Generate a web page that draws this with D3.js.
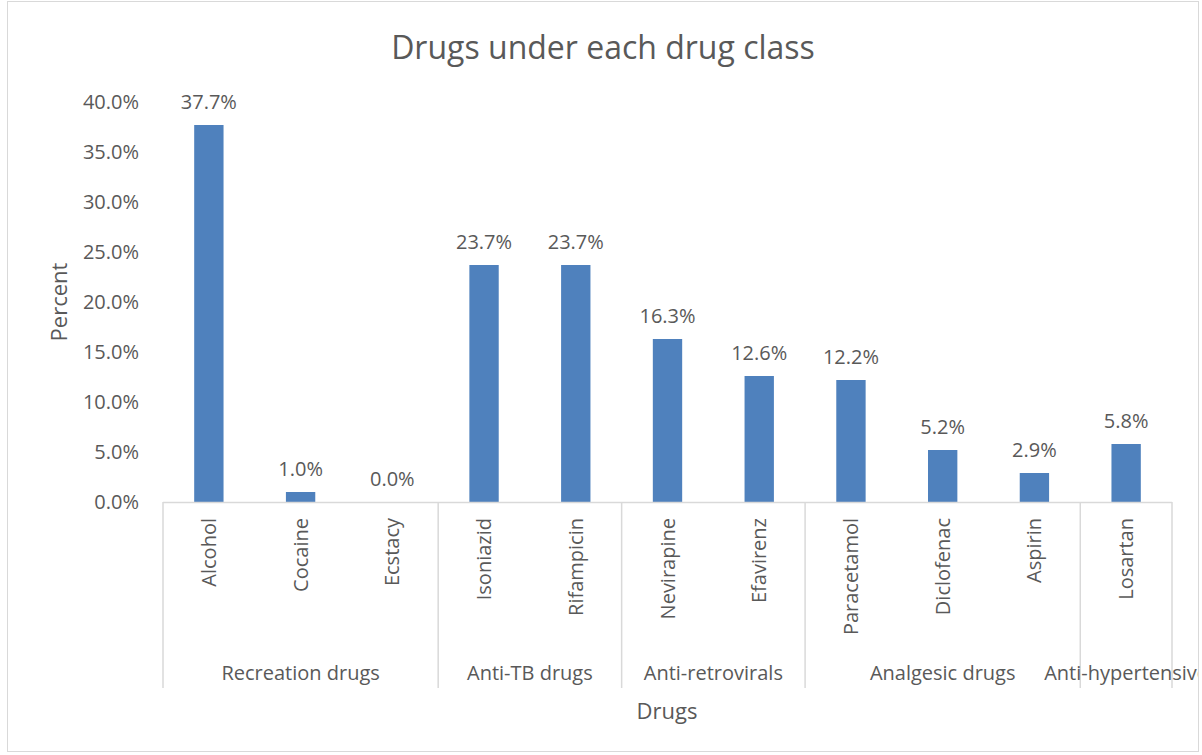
<!DOCTYPE html>
<html>
<head>
<meta charset="utf-8">
<script src="https://cdn.jsdelivr.net/npm/d3@7/dist/d3.min.js"></script>
<style>
  html, body { margin: 0; padding: 0; background: #fff; }
  svg text { font-family: "Open Sans", "Liberation Sans", sans-serif; fill: #595959; }
</style>
</head>
<body>
<svg id="chart" width="1202" height="755"></svg>
<script>
// Drug usage by class
const drugs = ["Alcohol", "Cocaine", "Ecstacy", "Isoniazid", "Rifampicin", "Nevirapine",
               "Efavirenz", "Paracetamol", "Diclofenac", "Aspirin", "Losartan"];
const percents = [37.7, 1.0, 0.0, 23.7, 23.7, 16.3, 12.6, 12.2, 5.2, 2.9, 5.8];
const classNames = ["Recreation drugs", "Anti-TB drugs", "Anti-retrovirals", "Analgesic drugs", "Anti-hypertensive"];
const classSizes = [3, 2, 2, 3, 1];
const yTicks = [0, 5, 10, 15, 20, 25, 30, 35, 40];

const svg = d3.select("#chart");
const plot = { left: 163, right: 1172, top: 102, bottom: 502 };
const axisColor = "#d9d9d9";
const fs = "20px";

// outer chart frame
svg.append("rect")
  .attr("x", 7.5).attr("y", 1.5).attr("width", 1191).attr("height", 750)
  .attr("fill", "none").attr("stroke", axisColor).attr("stroke-width", 1);

svg.append("clipPath").attr("id", "frameClip")
  .append("rect").attr("x", 8).attr("y", 2).attr("width", 1190).attr("height", 749);

const x = d3.scaleBand().domain(drugs).range([plot.left, plot.right]).paddingInner(0).paddingOuter(0);
const y = d3.scaleLinear().domain([0, 40]).range([plot.bottom, plot.top]);
const barW = x.bandwidth() * 0.32;

// title
svg.append("text")
  .attr("x", 603).attr("y", 59)
  .attr("text-anchor", "middle")
  .style("font-size", "32px")
  .text("Drugs under each drug class");

// y axis (labels only)
const yAxis = d3.axisLeft(y).tickValues(yTicks).tickSize(0).tickPadding(0)
  .tickFormat(d => d.toFixed(1) + "%");
const yg = svg.append("g").attr("transform", `translate(${plot.left - 24},0)`).call(yAxis);
yg.select(".domain").remove();
yg.selectAll("text")
  .style("font-size", fs)
  .attr("fill", "#595959")
  .attr("font-family", "Open Sans, Liberation Sans, sans-serif");

// bars
svg.append("g").selectAll("rect")
  .data(drugs)
  .join("rect")
  .attr("x", d => x(d) + (x.bandwidth() - barW) / 2)
  .attr("width", barW)
  .attr("y", (d, i) => y(percents[i]))
  .attr("height", (d, i) => y(0) - y(percents[i]))
  .attr("fill", "#4f81bd");

// value labels
svg.append("g").selectAll("text")
  .data(drugs)
  .join("text")
  .attr("x", d => x(d) + x.bandwidth() / 2)
  .attr("y", (d, i) => y(percents[i]) - 16)
  .attr("text-anchor", "middle")
  .style("font-size", fs)
  .text((d, i) => percents[i].toFixed(1) + "%");

// category axis line
svg.append("line")
  .attr("x1", plot.left).attr("x2", plot.right)
  .attr("y1", plot.bottom + 0.5).attr("y2", plot.bottom + 0.5)
  .attr("stroke", axisColor).attr("stroke-width", 1.5);

// group separators and group labels
const sepBottom = 688;
let start = 0;
const bounds = [0];
classSizes.forEach(n => { start += n; bounds.push(start); });
svg.append("g").selectAll("line")
  .data(bounds)
  .join("line")
  .attr("x1", b => b < drugs.length ? x(drugs[b]) : plot.right)
  .attr("x2", b => b < drugs.length ? x(drugs[b]) : plot.right)
  .attr("y1", plot.bottom).attr("y2", sepBottom)
  .attr("stroke", axisColor).attr("stroke-width", 1.5);

// group labels; the last one runs past the frame and is clipped there
const groupG = svg.append("g").attr("clip-path", "url(#frameClip)");
classNames.forEach((name, i) => {
  const a = bounds[i], b = bounds[i + 1];
  const x0 = x(drugs[a]);
  const x1 = b < drugs.length ? x(drugs[b]) : plot.right;
  groupG.append("text")
    .attr("x", (x0 + x1) / 2).attr("y", 680)
    .attr("text-anchor", "middle")
    .style("font-size", fs)
    .text(name);
});

// drug labels (rotated)
svg.append("g").selectAll("text")
  .data(drugs)
  .join("text")
  .attr("transform", d => `translate(${x(d) + x.bandwidth() / 2 + 7},518) rotate(-90)`)
  .attr("text-anchor", "end")
  .style("font-size", fs)
  .text(d => d);

// axis titles
svg.append("text")
  .attr("x", 667).attr("y", 719)
  .attr("text-anchor", "middle")
  .style("font-size", "22px")
  .text("Drugs");

svg.append("text")
  .attr("transform", "translate(67,302) rotate(-90)")
  .attr("text-anchor", "middle")
  .style("font-size", "22px")
  .text("Percent");
</script>
</body>
</html>
